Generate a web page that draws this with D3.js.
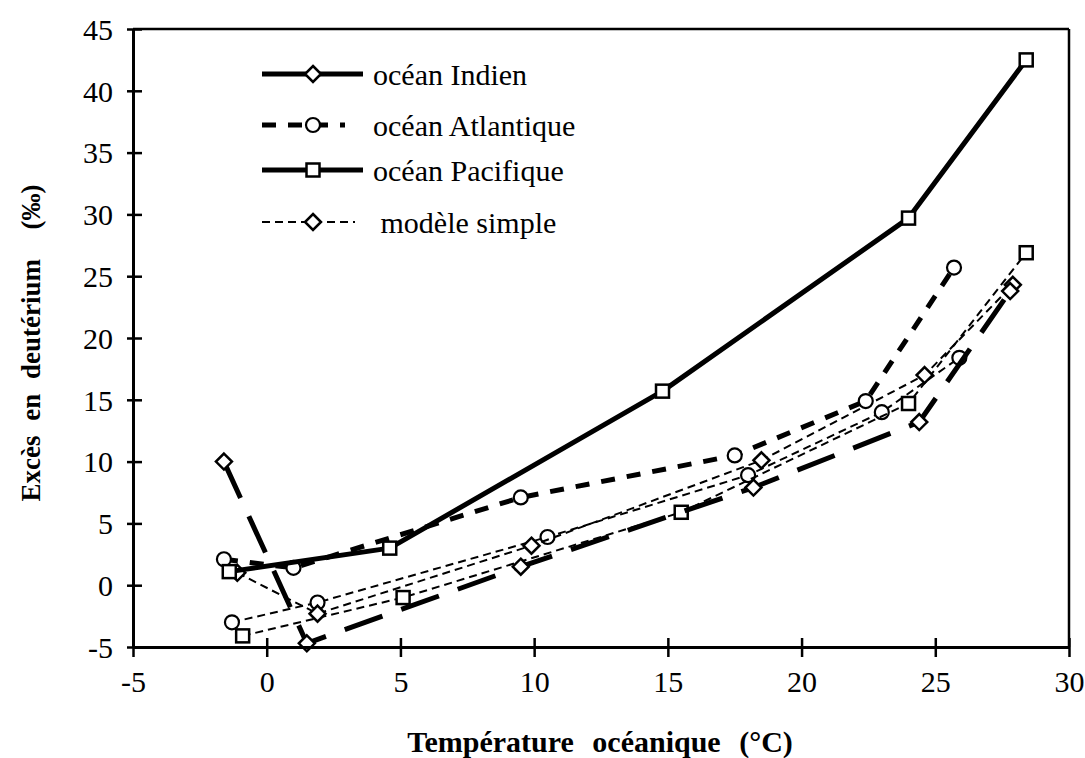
<!DOCTYPE html>
<html>
<head>
<meta charset="utf-8">
<script src="https://cdnjs.cloudflare.com/ajax/libs/d3/7.8.5/d3.min.js"></script>
<style>
  html, body { margin: 0; padding: 0; background: #fff; }
  svg { display: block; }
  text { font-family: "Liberation Serif", "Times New Roman", serif; fill: #000; }
</style>
</head>
<body>
<svg id="chart" width="1085" height="758"></svg>
<script>
// ---- data ----
const xTicks = [-5, 0, 5, 10, 15, 20, 25, 30];
const yTicks = [-5, 0, 5, 10, 15, 20, 25, 30, 35, 40, 45];

const indienObsX = [-1.6, 1.5, 9.5, 18.2, 24.4, 27.8];
const indienObsY = [10.0, -4.7, 1.5, 7.9, 13.2, 23.8];

const atlantiqueObsX = [-1.6, 1.0, 9.5, 17.5, 22.4, 25.7];
const atlantiqueObsY = [2.1, 1.4, 7.1, 10.5, 14.9, 25.7];

const pacifiqueObsX = [-1.4, 4.6, 14.8, 24.0, 28.4];
const pacifiqueObsY = [1.1, 3.0, 15.7, 29.7, 42.5];

const indienModX = [-1.1, 1.9, 9.9, 18.5, 24.6, 27.9];
const indienModY = [1.0, -2.3, 3.2, 10.1, 17.0, 24.3];

const atlantiqueModX = [-1.3, 1.9, 10.5, 18.0, 23.0, 25.9];
const atlantiqueModY = [-3.0, -1.4, 3.9, 8.9, 14.0, 18.4];

const pacifiqueModX = [-0.9, 5.1, 15.5, 24.0, 28.4];
const pacifiqueModY = [-4.1, -1.0, 5.9, 14.7, 26.9];

const legendLabels = ["océan Indien", "océan Atlantique", "océan Pacifique", " modèle simple"];

// ---- layout ----
(function () {
const svg = d3.select("#chart");
const pLeft = 133, pRight = 1069, pTop = 29, pBottom = 647;
const x = d3.scaleLinear().domain([-5, 30]).range([pLeft, pRight]);
const y = d3.scaleLinear().domain([-5, 45]).range([pBottom, pTop]);

const zip = (xs, ys) => xs.map((v, i) => [v, ys[i]]);
const line = d3.line().x(d => x(d[0])).y(d => y(d[1]));

const styles = {
  heavySolid: { w: 5, dash: null },
  heavyDash: { w: 5, dash: "14,12" },
  heavyLong: { w: 5, dash: "40,20" },
  thin: { w: 2, dash: "8,5" }
};

const series = [
  { data: zip(atlantiqueModX, atlantiqueModY), st: styles.thin, marker: "circle" },
  { data: zip(pacifiqueModX, pacifiqueModY), st: styles.thin, marker: "square" },
  { data: zip(indienModX, indienModY), st: styles.thin, marker: "diamond" },
  { data: zip(indienObsX, indienObsY), st: styles.heavyLong, marker: "diamond" },
  { data: zip(atlantiqueObsX, atlantiqueObsY), st: styles.heavyDash, marker: "circle" },
  { data: zip(pacifiqueObsX, pacifiqueObsY), st: styles.heavySolid, marker: "square" }
];

function drawMarker(g, type, cx, cy) {
  if (type === "circle") {
    g.append("circle").attr("cx", cx).attr("cy", cy).attr("r", 7)
      .attr("fill", "#fff").attr("stroke", "#000").attr("stroke-width", 2.2);
  } else if (type === "square") {
    g.append("rect").attr("x", cx - 6.5).attr("y", cy - 6.5).attr("width", 13).attr("height", 13)
      .attr("fill", "#fff").attr("stroke", "#000").attr("stroke-width", 2.5);
  } else {
    const s = 8;
    g.append("path").attr("d", `M${cx},${cy - s}L${cx + s},${cy}L${cx},${cy + s}L${cx - s},${cy}Z`)
      .attr("fill", "#fff").attr("stroke", "#000").attr("stroke-width", 2.5);
  }
}

const plot = svg.append("g");
series.forEach(s => {
  plot.append("path").datum(s.data).attr("d", line)
    .attr("fill", "none").attr("stroke", "#000").attr("stroke-width", s.st.w)
    .attr("stroke-dasharray", s.st.dash).attr("stroke-linejoin", "round");
  const mg = plot.append("g");
  s.data.forEach(d => drawMarker(mg, s.marker, x(d[0]), y(d[1])));
});

// ---- frame & axes ----
svg.append("line").attr("x1", pLeft).attr("x2", pRight).attr("y1", pTop).attr("y2", pTop)
  .attr("stroke", "#000").attr("stroke-width", 2.5);
svg.append("line").attr("x1", pRight).attr("x2", pRight).attr("y1", pTop).attr("y2", pBottom)
  .attr("stroke", "#000").attr("stroke-width", 2.5);

const fmt = d => d < 0 ? "-" + Math.abs(d) : String(d);
const xAxis = svg.append("g").attr("transform", `translate(0,${pBottom})`)
  .call(d3.axisBottom(x).tickValues(xTicks).tickSizeInner(10).tickSizeOuter(0).tickFormat(fmt));
const yAxis = svg.append("g").attr("transform", `translate(${pLeft},0)`)
  .call(d3.axisLeft(y).tickValues(yTicks).tickSizeInner(6).tickSizeOuter(0).tickFormat(fmt));

[xAxis, yAxis].forEach(a => {
  a.attr("font-family", null);
  a.select(".domain").attr("stroke", "#000").attr("stroke-width", 3);
  a.selectAll(".tick line").attr("stroke", "#000").attr("stroke-width", 2.5);
  a.selectAll(".tick text").style("font-family", '"Liberation Serif", serif')
    .style("font-size", "30px").attr("fill", "#000");
});
xAxis.selectAll(".tick line").attr("y1", -9).attr("y2", 10);
xAxis.selectAll(".tick text").attr("y", 24).attr("dy", "0.71em");
yAxis.selectAll(".tick line").attr("x1", -6).attr("x2", 9);
yAxis.selectAll(".tick text").attr("x", -20).attr("dy", "0.34em");

// ---- axis titles ----
svg.append("text").attr("x", 600).attr("y", 752).attr("text-anchor", "middle")
  .style("font-size", "30px").style("font-weight", "bold").style("word-spacing", "11px")
  .text("Température océanique (°C)");
svg.append("text").attr("transform", "translate(40,343) rotate(-90)").attr("text-anchor", "middle")
  .style("font-size", "27px").style("font-weight", "bold").style("word-spacing", "8px")
  .style("white-space", "pre")
  .text("Excès en deutérium  (‰)");

// ---- legend ----
const legY = [74, 125, 170, 222];
const legStyles = [styles.heavySolid, styles.heavyDash, styles.heavySolid, styles.thin];
const legMarkers = ["diamond", "circle", "square", "diamond"];
const lg = svg.append("g");
legendLabels.forEach((lab, i) => {
  const st = legStyles[i];
  lg.append("line").attr("x1", 262).attr("x2", i === 1 ? 345 : (i === 3 ? 355 : 363))
    .attr("y1", legY[i]).attr("y2", legY[i])
    .attr("stroke", "#000").attr("stroke-width", st.w).attr("stroke-dasharray", st.dash);
  drawMarker(lg, legMarkers[i], 313, legY[i]);
  lg.append("text").attr("x", 373).attr("y", legY[i]).attr("dy", "0.35em")
    .style("font-size", "30px").style("white-space", "pre").text(lab);
});
})();
</script>
</body>
</html>
